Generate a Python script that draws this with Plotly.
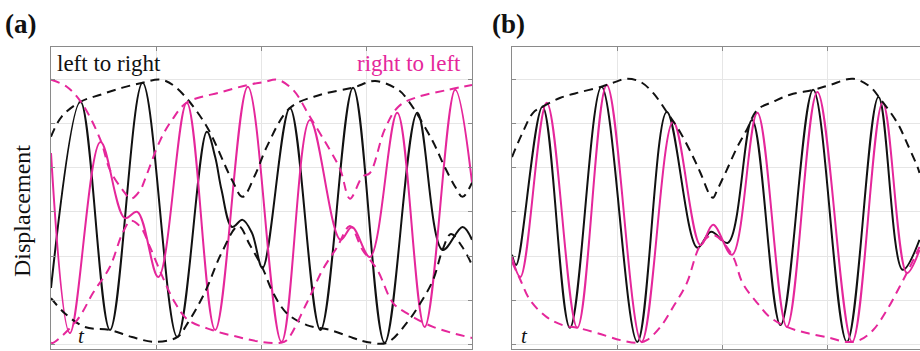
import plotly.graph_objects as go

# ---------------- panel (a): counter-propagating beats ----------------
# time in grid units, displacement in grid units
a_black_t = [0.00, 0.28, 0.56, 0.87, 1.20, 1.48, 1.56, 1.62, 1.72, 1.82, 1.91, 2.01,
             2.27, 2.56, 2.87, 3.17, 3.48, 3.72, 3.91, 4.00]
a_black_y = [-1.72, 2.49, -2.67, 2.92, -2.83, 1.81, 1.24, 0.50, -0.34, -0.18, -0.48, -1.27,
             2.35, -2.67, 2.81, -2.96, 2.24, -0.86, -0.34, -0.63]

a_pink_t = [0.00, 0.18, 0.47, 0.70, 0.82, 1.02, 1.29, 1.56, 1.87, 2.19, 2.46, 2.75,
            2.86, 3.03, 3.29, 3.55, 3.84, 4.00]
a_pink_y = [1.33, -2.74, 1.58, -0.14, 0.00, -1.47, 2.47, -2.67, 2.83, -2.94, 2.08, -0.63,
            -0.34, -1.02, 2.24, -2.60, 2.76, 0.66]

a_black_up_t = [0.00, 0.10, 0.28, 0.47, 0.68, 0.87, 1.04, 1.18, 1.46, 1.72, 1.82, 1.94,
                2.05, 2.27, 2.56, 2.87, 3.08, 3.30, 3.39, 3.62, 3.74, 3.84, 3.91, 4.00]
a_black_up_y = [1.70, 2.15, 2.49, 2.65, 2.81, 2.92, 2.99, 2.83, 2.01, 0.72, 0.34, 0.84,
                1.47, 2.35, 2.65, 2.81, 2.96, 2.76, 2.53, 1.63, 1.02, 0.57, 0.34, 0.66]

a_black_lo_t = [0.00, 0.13, 0.32, 0.56, 0.77, 0.99, 1.20, 1.30, 1.46, 1.62, 1.78, 1.89,
                2.01, 2.11, 2.24, 2.43, 2.65, 2.87, 3.00, 3.19, 3.38, 3.51, 3.63, 3.72,
                3.80, 3.91, 4.00]
a_black_lo_y = [-1.95, -2.29, -2.60, -2.67, -2.83, -2.94, -2.83, -2.51, -1.83, -0.93, -0.32, -0.75,
                -1.27, -1.83, -2.29, -2.56, -2.67, -2.85, -2.94, -2.96, -2.51, -2.06, -1.54, -0.86,
                -0.50, -0.80, -1.20]

a_pink_up_t = [0.00, 0.15, 0.29, 0.47, 0.56, 0.68, 0.76, 0.85, 0.89, 1.04, 1.15, 1.29,
               1.62, 1.87, 2.03, 2.15, 2.30, 2.46, 2.65, 2.75, 2.84, 2.96, 3.03, 3.17,
               3.30, 3.46, 3.77, 4.00]
a_pink_up_y = [2.99, 2.83, 2.47, 1.63, 0.95, 0.50, 0.30, 0.50, 0.72, 1.63, 2.08, 2.47,
               2.71, 2.87, 2.94, 2.99, 2.76, 2.15, 1.40, 0.95, 0.30, 0.80, 0.88, 1.86,
               2.38, 2.58, 2.76, 2.87]

a_pink_lo_t = [0.00, 0.02, 0.25, 0.40, 0.56, 0.68, 0.76, 0.85, 0.94, 1.06, 1.18, 1.30,
               1.53, 1.78, 2.00, 2.18, 2.24, 2.43, 2.58, 2.72, 2.84, 2.96, 3.10, 3.25,
               3.38, 3.63, 4.00]
a_pink_lo_y = [-2.96, -2.96, -2.44, -1.83, -1.24, -0.48, -0.20, -0.34, -0.79, -1.47, -2.06, -2.44,
               -2.67, -2.83, -2.94, -2.96, -2.90, -2.06, -1.31, -0.79, -0.32, -0.86, -1.31, -2.06,
               -2.29, -2.60, -2.85]

# ---------------- panel (b): co-propagating beats ----------------
b_black_t = [0.00, 0.04, 0.29, 0.55, 0.85, 1.19, 1.47, 1.76, 1.89, 2.05, 2.28, 2.55,
             2.86, 3.18, 3.48, 3.71, 3.87]
b_black_y = [-0.97, -1.20, 2.38, -2.62, 2.83, -2.94, 2.26, -0.81, -0.45, -0.70, 2.08, -2.56,
             2.76, -2.94, 2.60, -1.31, -0.63]

b_pink_t = [0.00, 0.08, 0.33, 0.62, 0.90, 1.23, 1.53, 1.79, 1.91, 2.09, 2.33, 2.61,
            2.90, 3.23, 3.52, 3.75, 3.87]
b_pink_y = [-1.02, -1.47, 2.47, -2.62, 2.87, -2.94, 2.04, -0.75, -0.29, -0.97, 2.24, -2.60,
            2.71, -2.94, 2.47, -1.38, -0.86]

b_black_up_t = [0.00, 0.10, 0.20, 0.29, 0.46, 0.65, 0.85, 0.96, 1.09, 1.22, 1.34, 1.47,
                1.60, 1.72, 1.79, 1.88, 1.91, 1.95, 2.04, 2.14, 2.23, 2.33, 2.48, 2.64,
                2.86, 3.02, 3.24, 3.40, 3.49, 3.66, 3.75, 3.85, 3.87]
b_black_up_y = [1.24, 1.79, 2.24, 2.38, 2.58, 2.71, 2.83, 2.92, 3.01, 2.94, 2.69, 2.26,
                1.79, 1.24, 0.88, 0.38, 0.32, 0.50, 0.95, 1.47, 1.86, 2.31, 2.49, 2.65,
                2.76, 2.87, 3.01, 2.83, 2.58, 2.01, 1.56, 1.02, 0.88]

b_pink_lo_t = [0.00, 0.08, 0.17, 0.33, 0.48, 0.62, 0.81, 1.03, 1.19, 1.28, 1.41, 1.53,
               1.66, 1.79, 1.91, 2.09, 2.19, 2.33, 2.45, 2.61, 2.80, 3.02, 3.18, 3.30,
               3.43, 3.56, 3.68, 3.78, 3.87]
b_pink_lo_y = [-1.13, -1.54, -1.99, -2.38, -2.56, -2.62, -2.74, -2.90, -2.96, -2.90, -2.60, -2.15,
               -1.61, -0.75, -0.52, -0.97, -1.61, -2.06, -2.38, -2.60, -2.74, -2.85, -2.94, -2.90,
               -2.67, -2.22, -1.70, -1.24, -0.79]

BLACK = "#111111"
PINK = "#E5279B"
FRAME = "#8a8a8a"
GRID = "#e6e6e6"
SERIF = "Liberation Serif, Times New Roman, serif"

fig = go.Figure()


def curve(t, y, color, dashed, xa, ya):
    fig.add_trace(go.Scatter(
        x=t, y=y, mode="lines", xaxis=xa, yaxis=ya, showlegend=False,
        hoverinfo="skip",
        line=dict(color=color, width=2, shape="spline", smoothing=1.0,
                  dash="9px,6px" if dashed else "solid"),
    ))


# panel (a)
curve(a_black_t, a_black_y, BLACK, False, "x", "y")
curve(a_pink_t, a_pink_y, PINK, False, "x", "y")
curve(a_black_up_t, a_black_up_y, BLACK, True, "x", "y")
curve(a_black_lo_t, a_black_lo_y, BLACK, True, "x", "y")
curve(a_pink_up_t, a_pink_up_y, PINK, True, "x", "y")
curve(a_pink_lo_t, a_pink_lo_y, PINK, True, "x", "y")

# panel (b)
curve(b_black_t, b_black_y, BLACK, False, "x2", "y2")
curve(b_pink_t, b_pink_y, PINK, False, "x2", "y2")
curve(b_black_up_t, b_black_up_y, BLACK, True, "x2", "y2")
curve(b_pink_lo_t, b_pink_lo_y, PINK, True, "x2", "y2")

W, H = 920, 351
y_dom = [(H - 349) / H, (H - 46.5) / H]
y_rng = [-3.10, 3.74]

axis_common = dict(
    showgrid=True, gridcolor=GRID, gridwidth=1, dtick=1, tick0=0,
    showticklabels=False, ticks="inside", ticklen=4, tickcolor=FRAME,
    showline=True, linecolor=FRAME, linewidth=1, zeroline=False,
    fixedrange=True,
)

fig.update_layout(
    width=W, height=H,
    margin=dict(l=0, r=0, t=0, b=0),
    paper_bgcolor="white", plot_bgcolor="white",
    xaxis=dict(domain=[51 / W, 472 / W], range=[0, 4], anchor="y",
               mirror="allticks", **axis_common),
    yaxis=dict(domain=y_dom, range=y_rng, anchor="x",
               mirror="allticks", **axis_common),
    xaxis2=dict(domain=[512 / W, 1.0], range=[0, (920 - 512) / 105.3], anchor="y2",
                mirror="allticks", **axis_common),
    yaxis2=dict(domain=y_dom, range=y_rng, anchor="x2",
                mirror=False, **axis_common),
)


def label(text, px, py, size, color=BLACK, xanchor="left", angle=0):
    fig.add_annotation(
        text=text, x=px / W, y=(H - py) / H, xref="paper", yref="paper",
        xanchor=xanchor, yanchor="middle", showarrow=False, textangle=angle,
        font=dict(family=SERIF, size=size, color=color),
    )


label("<b>(a)</b>", 3, 24, 27)
label("<b>(b)</b>", 490, 24, 27)
label("left to right", 55, 64, 23)
label("right to left", 463, 64, 23, color=PINK, xanchor="right")
label("Displacement", 22, 211, 24, xanchor="center", angle=-90)
label("<i>t</i>", 81, 336, 21, xanchor="center")
label("<i>t</i>", 524, 336, 21, xanchor="center")

fig.write_html("out.html")
